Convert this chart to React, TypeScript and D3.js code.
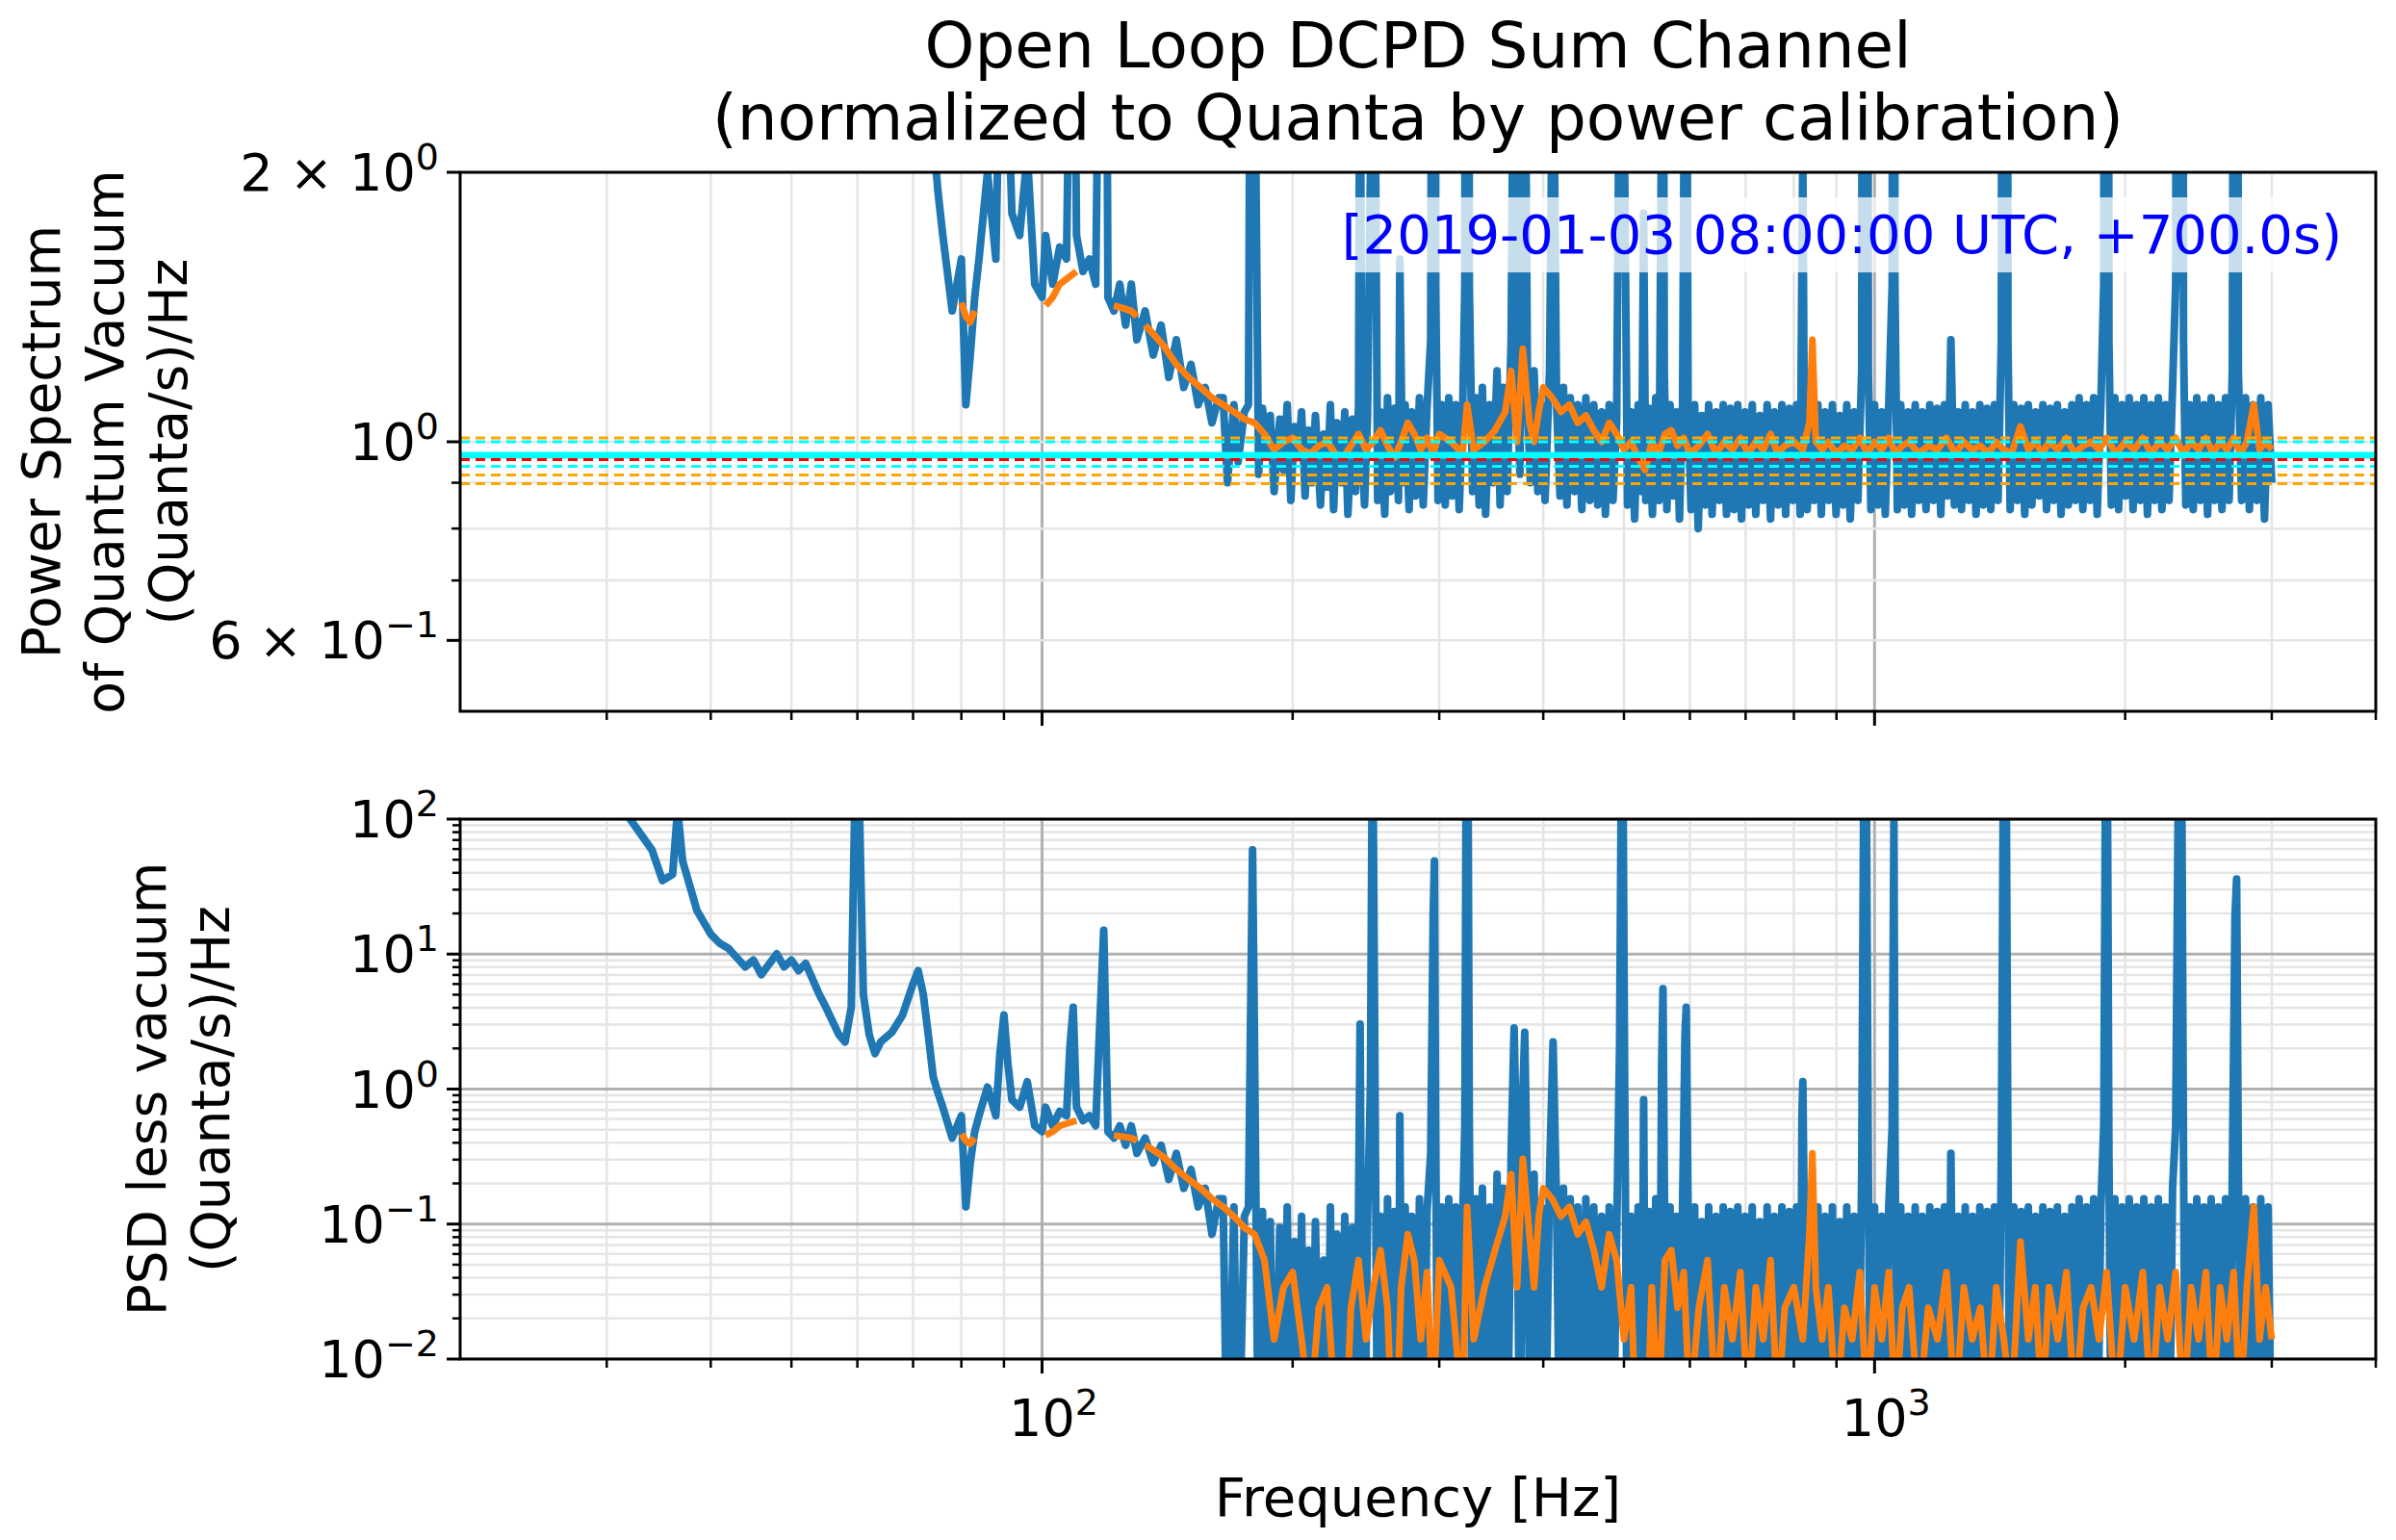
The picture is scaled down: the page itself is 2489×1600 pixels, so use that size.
import * as d3 from 'd3'

// normalized PSD (quanta units): [Hz, value]
const blue: [number, number][] = [
  [30,150],[32,101],[34,60],[35,36],[36,40],[36.5,120],[37,50],[38.5,22],[40,15],[41,13],[42,12],[44,9],[45,10],[46,8],[48,11],[49,9],[50,10],[51,8.5],[52,9.5],[54,6],[55,5],[57,3.5],[58,3.2],[59,5],[59.6,150],[60.3,150],[61,6],[62,3.5],[63,2.8],[64,3.2],[66,3.6],[68,4.5],[70,7],[71,8.5],[72,6],[73,3.5],[74,2.2],[75,1.9],[76,1.7],[78,1.4],[80,1.6],[81,1.1],[82,1.25],[83,1.45],[84,1.6],[86,2.0],[88,1.6],[89,2.8],[90,4.5],[91,2.5],[92,1.8],[94,1.7],[96,2.1],[98,1.5],[100,1.45],[101,1.7],[103,1.5],[105,1.65],[107,1.6],[108,3.0],[109,5.0],[110,1.7],[112,1.55],[114,1.6],[116,1.5],[117,3],[118.6,16],[120,1.45],[122,1.4],[124,1.5],[126,1.35],[128,1.5],[130,1.3],[133,1.4],[136,1.25],[139,1.35],[142,1.18],[145,1.3],[148,1.15],[151,1.22],[154,1.1],[157,1.15],[160,1.05],[163,1.12],
  [165,1.12],[167,0.9],[170,1.1],[172,0.95],[175,1.08],[177,1.1],[178,4],[179,60],[180,3],[182,0.92],[184,1.09],[186,0.97],[188,1.07],[190,0.88],[193,1.06],[195,0.93],[197,1.1],[199,0.86],[201,1.04],[203,0.96],[205,1.08],[207,0.87],[209,1.03],[211,0.9],[213,1.07],[216,0.85],[218,1.02],[220,0.89],[222,1.1],[224,0.84],[226,1.05],[229,0.9],[231,1.08],[233,0.83],[236,1.06],[238,0.88],[240,1.1],[241,4.0],[242,1.0],[244,0.85],[246,1.07],[248,2],[249,100],[250,101],[251,3],[253,0.86],[255,1.08],[258,0.83],[260,1.12],[262,0.88],[265,1.09],[268,0.86],[269,1.6],[271,0.9],[273,1.1],[276,0.84],[278,1.08],[281,0.87],[284,1.12],[287,0.85],[290,1.09],[293,1.3],[295,20],[296,50],[297,1.5],[299,0.86],[302,1.1],[305,0.85],[308,1.12],[311,0.87],[314,1.1],[317,0.84],[320,1.07],[322,1.5],[323,100],[325,100],[326,1.5],[329,0.88],[332,1.12],[335,0.85],[338,1.15],[341,0.83],[345,1.1],[348,0.9],[352,1.2],[355,0.85],[358,1.15],[362,0.88],[366,1.3],[369,3.8],[372,1.2],[375,0.92],[378,1.9],[380,3.6],[383,1.1],[386,0.9],[390,1.2],[394,0.88],[398,1.1],[402,0.86],[407,1.2],[411,3.2],[415,1.1],[419,0.87],[423,1.15],[427,0.85],[431,1.12],[436,0.88],[440,1.1],[445,0.84],[450,1.12],[455,0.86],[460,1.1],[465,0.85],[470,1.08],[475,0.83],[480,1.1],[485,0.86],[490,1.05],[494,3],[496,100],[499,100],[501,2],[505,0.85],[510,1.08],[515,0.82],[520,1.1],[525,0.88],[528,1.8],[531,0.86],[536,1.09],[541,0.83],[546,1.12],[551,0.86],[555,2.5],[557,6.5],[559,1.2],[563,0.84],[568,1.1],[573,0.87],[578,1.08],[583,0.82],[588,1.1],[592,3.5],[594,5.0],[597,1.1],[602,0.84],[608,1.1],[614,0.8],[620,1.07],[626,0.85],[632,1.1],[638,0.83],[645,1.08],[651,0.86],[658,1.1],[664,0.83],[671,1.09],[678,0.84],[685,1.1],[692,0.82],[699,1.08],[706,0.85],[713,1.1],[720,0.83],[728,1.07],[735,0.86],[743,1.1],[750,0.82],[758,1.08],[766,0.85],[774,1.1],[782,0.83],[790,1.09],[798,0.86],[806,1.1],[814,0.83],[818,1.6],[820,2.1],[823,1.1],[830,0.84],[838,1.08],[846,0.86],[855,1.1],[863,0.83],[872,1.08],[881,0.86],[890,1.1],[899,0.83],[908,1.07],[917,0.85],[926,1.1],[935,0.82],[945,1.08],[955,0.86],[965,1.2],[970,100],[978,100],[983,1.2],[990,0.84],[1000,1.1],[1010,0.85],[1020,1.08],[1030,0.83],[1040,1.1],[1050,1.5],[1055,100],[1058,1.5],[1065,0.84],[1075,1.1],[1086,0.85],[1097,1.08],[1108,0.83],[1119,1.1],[1130,0.86],[1141,1.08],[1153,0.84],[1165,1.1],[1177,0.86],[1189,1.09],[1201,0.83],[1213,1.1],[1225,0.87],[1235,1.3],[1247,0.85],[1260,1.08],[1272,0.84],[1285,1.1],[1298,0.86],[1311,1.08],[1324,0.83],[1338,1.1],[1351,0.85],[1365,1.09],[1379,0.84],[1393,1.1],[1407,0.86],[1420,1.3],[1427,100],[1440,100],[1446,1.3],[1455,0.84],[1470,1.1],[1485,0.86],[1500,1.09],[1515,0.83],[1530,1.1],[1545,0.85],[1561,1.08],[1577,0.87],[1593,1.1],[1609,0.84],[1625,1.09],[1641,0.86],[1658,1.1],[1675,0.83],[1692,1.08],[1709,0.85],[1726,1.1],[1743,0.86],[1761,1.12],[1779,0.84],[1797,1.1],[1815,0.86],[1833,1.12],[1851,0.83],[1870,1.1],[1885,1.5],[1893,100],[1905,100],[1912,1.3],[1925,0.85],[1944,1.12],[1964,0.84],[1983,1.1],[2003,0.87],[2023,1.12],[2044,0.84],[2064,1.1],[2085,0.86],[2106,1.12],[2127,0.83],[2149,1.1],[2170,0.86],[2192,1.12],[2214,0.84],[2236,1.1],[2258,0.86],[2280,1.15],[2300,1.5],[2315,100],[2340,100],[2350,1.3],[2365,0.85],[2390,1.1],[2414,0.84],[2438,1.12],[2462,0.86],[2487,1.1],[2512,0.83],[2537,1.12],[2562,0.86],[2588,1.1],[2614,0.84],[2640,1.12],[2666,0.86],[2690,1.2],[2710,20],[2722,37],[2735,1.2],[2760,0.86],[2790,1.12],[2820,0.84],[2850,1.1],[2880,0.86],[2910,1.12],[2940,0.82],[2970,1.1],[3000,0.9],
]

// smoothed estimate, null = gap
const orange: [number, number | null][] = [
  [80,1.43],[81,1.38],[82,1.36],[83,1.4],[84,null],
  [101,1.42],[103,1.45],[105,1.5],[107,1.52],[110,1.55],[111,null],
  [122,1.42],[125,1.41],[128,1.4],[130,1.38],[131,null],
  [133,1.35],[136,1.32],[140,1.28],[145,1.22],[150,1.18],[155,1.15],[160,1.12],[165,1.1],[170,1.08],[175,1.06],[180,1.05],[185,1.02],[190,0.98],[195,1.0],[200,1.01],[205,0.98],[210,0.97],[215,0.99],[220,1.0],[225,0.97],[230,0.96],[235,0.99],[240,1.02],[245,0.98],[250,1.0],[255,1.03],[260,0.99],[265,0.96],[270,1.0],[275,1.05],[280,1.02],[285,0.98],[290,1.01],[295,0.97],[300,1.02],[310,1.0],[320,0.97],[324,1.1],[330,0.98],[340,1.0],[350,1.03],[360,1.08],[366,1.2],[372,1.0],[378,1.27],[385,1.05],[390,1.0],[395,1.08],[400,1.15],[410,1.12],[420,1.08],[430,1.1],[440,1.05],[450,1.07],[460,1.03],[470,1.0],[480,1.05],[490,1.02],[500,0.98],[510,1.0],[520,0.96],[530,0.93],[540,1.0],[550,0.97],[560,1.02],[570,1.03],[580,0.99],[590,1.01],[600,0.97],[615,0.99],[630,1.02],[645,0.97],[660,1.0],[675,0.98],[690,1.01],[705,0.97],[720,1.0],[735,0.98],[750,1.02],[765,0.97],[780,0.99],[800,1.0],[820,0.98],[835,1.05],[842,1.3],[850,1.0],[865,0.98],[880,1.0],[900,0.97],[920,0.99],[940,0.98],[960,1.01],[980,0.97],[1000,1.0],[1020,0.98],[1040,1.01],[1060,0.97],[1080,0.99],[1100,1.0],[1130,0.97],[1160,0.99],[1190,0.98],[1220,1.01],[1250,0.97],[1280,1.0],[1310,0.98],[1340,0.99],[1370,0.97],[1400,1.0],[1430,0.98],[1460,0.97],[1497,1.04],[1530,0.98],[1560,1.0],[1590,0.97],[1620,1.0],[1660,0.98],[1700,1.01],[1740,0.97],[1780,0.99],[1820,1.0],[1860,0.98],[1900,1.01],[1950,0.97],[2000,1.0],[2050,0.98],[2100,1.01],[2150,0.97],[2200,1.0],[2250,0.98],[2300,1.01],[2350,0.97],[2400,1.0],[2450,0.98],[2500,1.01],[2550,0.97],[2600,1.0],[2650,0.98],[2700,1.01],[2750,0.97],[2800,1.0],[2855,1.1],[2900,0.98],[2950,1.0],[3000,0.98],
]

const vacuum = 0.966
const hlines = [
  { v: 1.01, color: '#ffa500', dash: '10,6', w: 3 },
  { v: 1.0, color: '#00ffff', dash: '10,6', w: 3 },
  { v: 0.966, color: '#00ffff', dash: '', w: 7 },
  { v: 0.955, color: '#ff0000', dash: '10,6', w: 3 },
  { v: 0.939, color: '#00ffff', dash: '10,6', w: 3 },
  { v: 0.918, color: '#ffa500', dash: '10,6', w: 3 },
  { v: 0.898, color: '#ffa500', dash: '10,6', w: 3 },
]

const W = 2489, H = 1600
const L = 478, R = 2468
const T1 = 179, B1 = 739, T2 = 851, B2 = 1412
const FONT = 'DejaVu Sans, sans-serif'

const x = d3.scaleLog().domain([20, 4000]).range([L, R])
const y1 = d3.scaleLog().domain([0.5, 2]).range([B1, T1])
const y2 = d3.scaleLog().domain([0.01, 100]).range([B2, T2])

const xMinor = [30, 40, 50, 60, 70, 80, 90, 200, 300, 400, 500, 600, 700, 800, 900, 2000, 3000, 4000]
const xMajor = [100, 1000]
const y1Grid = [0.6, 0.7, 0.8, 0.9, 1, 2]
const y2Major = [0.01, 0.1, 1, 10, 100]
const y2Minor = d3.range(-2, 2).flatMap(e => [2, 3, 4, 5, 6, 7, 8, 9].map(m => m * 10 ** e))

function Pow({ exp, mant }: { exp: string; mant?: string }) {
  return (
    <>
      {mant ? `${mant} × ` : ''}10
      <tspan dy={-22} fontSize={38}>{exp}</tspan>
    </>
  )
}

export default function App() {
  const lineT = d3.line<[number, number]>().x(d => x(d[0])).y(d => y1(Math.max(d[1], 0.3)))
  const lineB = d3.line<[number, number]>().x(d => x(d[0])).y(d => y2(Math.max(d[1] - vacuum, 0.001)))
  const oT = d3.line<[number, number | null]>().defined(d => d[1] !== null).x(d => x(d[0])).y(d => y1(d[1] as number))
  const oB = d3.line<[number, number | null]>().defined(d => d[1] !== null).x(d => x(d[0])).y(d => y2(Math.max((d[1] as number) - vacuum, 0.001)))

  const xTicks = (b: number) => (
    <g>
      {xMinor.map(v => <line key={v} x1={x(v)} x2={x(v)} y1={b} y2={b + 9} stroke="#000" strokeWidth={2.5} />)}
      {xMajor.map(v => <line key={v} x1={x(v)} x2={x(v)} y1={b} y2={b + 15} stroke="#000" strokeWidth={3} />)}
    </g>
  )

  return (
    <div style={{ position: 'absolute', left: 0, top: 0 }}>
      <svg width={W} height={H} fontFamily={FONT}>
        <rect width={W} height={H} fill="#fff" />
        <defs>
          <clipPath id="c1"><rect x={L} y={T1} width={R - L} height={B1 - T1} /></clipPath>
          <clipPath id="c2"><rect x={L} y={T2} width={R - L} height={B2 - T2} /></clipPath>
        </defs>
        <text x={(L + R) / 2} y={70} textAnchor="middle" fontSize={66}>Open Loop DCPD Sum Channel</text>
        <text x={(L + R) / 2} y={145} textAnchor="middle" fontSize={66}>(normalized to Quanta by power calibration)</text>

        {/* top panel */}
        <g clipPath="url(#c1)">
          {xMinor.map(v => <line key={v} x1={x(v)} x2={x(v)} y1={T1} y2={B1} stroke="#e5e5e5" strokeWidth={2.5} />)}
          {xMajor.map(v => <line key={v} x1={x(v)} x2={x(v)} y1={T1} y2={B1} stroke="#b0b0b0" strokeWidth={3} />)}
          {y1Grid.map(v => <line key={v} x1={L} x2={R} y1={y1(v)} y2={y1(v)} stroke="#e5e5e5" strokeWidth={2.5} />)}
          <path d={lineT(blue) ?? ''} fill="none" stroke="#1f77b4" strokeWidth={8} strokeLinejoin="round" />
          <path d={oT(orange) ?? ''} fill="none" stroke="#ff7f0e" strokeWidth={7} strokeLinejoin="round" />
          {hlines.map((h, i) => <line key={i} x1={L} x2={R} y1={y1(h.v)} y2={y1(h.v)} stroke={h.color} strokeWidth={h.w} strokeDasharray={h.dash || undefined} />)}
        </g>
        <rect x={L} y={T1} width={R - L} height={B1 - T1} fill="none" stroke="#000" strokeWidth={3} />
        {xTicks(B1)}
        {[0.7, 0.8, 0.9].map(v => <line key={v} x1={L - 9} x2={L} y1={y1(v)} y2={y1(v)} stroke="#000" strokeWidth={2.5} />)}
        {[0.6, 1, 2].map(v => <line key={v} x1={L - 14} x2={L} y1={y1(v)} y2={y1(v)} stroke="#000" strokeWidth={3} />)}
        <g fontSize={54} textAnchor="end">
          <text x={L - 22} y={y1(2) + 19}><Pow mant="2" exp="0" /></text>
          <text x={L - 22} y={y1(1) + 19}><Pow exp="0" /></text>
          <text x={L - 22} y={y1(0.6) + 19}><Pow mant="6" exp="−1" /></text>
        </g>
        <rect x={1385} y={205} width={1060} height={78} fill="#fff" opacity={0.75} />
        <text x={2433} y={263} textAnchor="end" fontSize={56} fill="#0000ff">[2019-01-03 08:00:00 UTC, +700.0s)</text>
        <g fontSize={55} textAnchor="middle">
          <text transform={`translate(62,${(T1 + B1) / 2}) rotate(-90)`}>Power Spectrum</text>
          <text transform={`translate(128,${(T1 + B1) / 2}) rotate(-90)`}>of Quantum Vacuum</text>
          <text transform={`translate(194,${(T1 + B1) / 2}) rotate(-90)`}>(Quanta/s)/Hz</text>
        </g>

        {/* bottom panel */}
        <g clipPath="url(#c2)">
          {xMinor.map(v => <line key={v} x1={x(v)} x2={x(v)} y1={T2} y2={B2} stroke="#e5e5e5" strokeWidth={2.5} />)}
          {y2Minor.map(v => <line key={v} x1={L} x2={R} y1={y2(v)} y2={y2(v)} stroke="#e5e5e5" strokeWidth={2.5} />)}
          {xMajor.map(v => <line key={v} x1={x(v)} x2={x(v)} y1={T2} y2={B2} stroke="#b0b0b0" strokeWidth={3} />)}
          {y2Major.map(v => <line key={v} x1={L} x2={R} y1={y2(v)} y2={y2(v)} stroke="#b0b0b0" strokeWidth={3} />)}
          <path d={lineB(blue) ?? ''} fill="none" stroke="#1f77b4" strokeWidth={8} strokeLinejoin="round" />
          <path d={oB(orange) ?? ''} fill="none" stroke="#ff7f0e" strokeWidth={7} strokeLinejoin="round" />
        </g>
        <rect x={L} y={T2} width={R - L} height={B2 - T2} fill="none" stroke="#000" strokeWidth={3} />
        {xTicks(B2)}
        {y2Minor.map(v => <line key={v} x1={L - 8} x2={L} y1={y2(v)} y2={y2(v)} stroke="#000" strokeWidth={2.5} />)}
        {y2Major.map(v => <line key={v} x1={L - 14} x2={L} y1={y2(v)} y2={y2(v)} stroke="#000" strokeWidth={3} />)}
        <g fontSize={54} textAnchor="end">
          {y2Major.map(v => (
            <text key={v} x={L - 22} y={y2(v) + 19}><Pow exp={String(Math.round(Math.log10(v))).replace('-', '−')} /></text>
          ))}
        </g>
        <g fontSize={54} textAnchor="middle">
          {xMajor.map(v => (
            <text key={v} x={x(v) + 12} y={B2 + 80}><Pow exp={String(Math.round(Math.log10(v)))} /></text>
          ))}
        </g>
        <g fontSize={55} textAnchor="middle">
          <text transform={`translate(172,${(T2 + B2) / 2}) rotate(-90)`}>PSD less vacuum</text>
          <text transform={`translate(238,${(T2 + B2) / 2}) rotate(-90)`}>(Quanta/s)/Hz</text>
        </g>
        <text x={(L + R) / 2} y={1575} textAnchor="middle" fontSize={56}>Frequency [Hz]</text>
      </svg>
    </div>
  )
}
